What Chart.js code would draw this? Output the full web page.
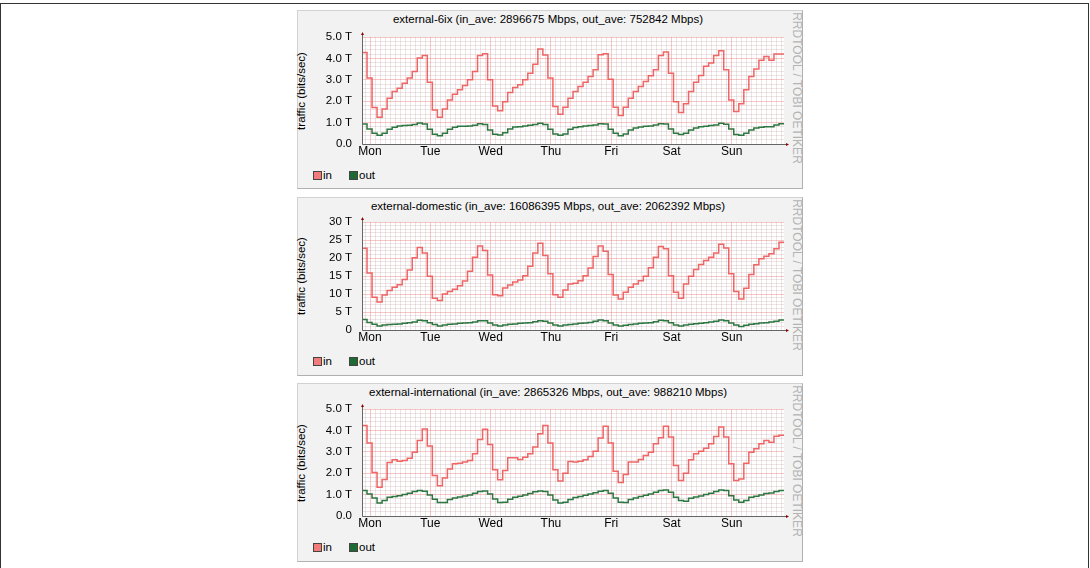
<!DOCTYPE html>
<html>
<head>
<meta charset="utf-8">
<script src="https://cdn.jsdelivr.net/npm/chart.js@4.4.1/dist/chart.umd.min.js"></script>
<style>
body{margin:0;width:1090px;height:568px;background:#fff;position:relative;overflow:hidden;font-family:"Liberation Sans",Arial,sans-serif;color:#000}
.frame{position:absolute;left:0;top:3px;width:1087px;height:600px;border:1px solid #333}
.panel{position:absolute;left:297px;width:504px;height:177px;background:#f2f2f2;border:1px solid;border-color:#d2d2d2 #b0b0b0 #b0b0b0 #d2d2d2}
canvas{position:absolute}
.ttl{position:absolute;left:297px;width:502px;text-align:center;font-size:11.5px;line-height:14px;white-space:nowrap}
.ylab{position:absolute;font-size:11.5px;white-space:nowrap;transform:translate(-50%,-50%) rotate(-90deg)}
.wm{position:absolute;font-size:12px;color:#b4b4b4;white-space:nowrap;transform:translate(-50%,-50%) rotate(90deg)}
.lg{position:absolute;font-size:11.5px;line-height:12px;white-space:nowrap}
.sw{position:absolute;width:7px;height:7px;border:1px solid #444}
</style>
</head>
<body>
<div class="frame"></div>
<script>
// ══════════════════════════════════════════
// DATA (2-hour steps, Sun ~21h -> Sun ~21h, values in T bits/sec)
// ══════════════════════════════════════════
const days=['Mon','Tue','Wed','Thu','Fri','Sat','Sun'];
const titles=[
  'external-6ix (in_ave: 2896675 Mbps, out_ave: 752842 Mbps)',
  'external-domestic (in_ave: 16086395 Mbps, out_ave: 2062392 Mbps)',
  'external-international (in_ave: 2865326 Mbps, out_ave: 988210 Mbps)'
];
const sixIn=[4.28,3.08,1.70,1.25,1.64,2.14,2.45,2.61,2.84,3.08,3.39,4.02,
  4.13,2.89,1.59,1.25,1.63,2.06,2.33,2.53,2.73,3.00,3.39,4.13,
  4.22,3.00,1.78,1.55,1.98,2.41,2.64,2.77,3.00,3.31,3.73,4.44,
  4.16,3.08,1.75,1.39,1.72,2.14,2.45,2.69,2.89,3.16,3.47,4.17,
  4.22,3.03,1.72,1.33,1.72,2.14,2.45,2.69,2.92,3.19,3.47,4.14,
  4.30,3.31,1.98,1.47,1.88,2.45,2.89,3.20,3.63,3.78,4.14,4.36,
  3.47,2.06,1.52,1.88,2.53,3.16,3.50,3.91,4.09,3.91,4.20,4.20];
const sixOut=[0.94,0.70,0.50,0.41,0.50,0.69,0.78,0.84,0.86,0.88,0.91,0.98,
  0.94,0.69,0.45,0.39,0.50,0.69,0.78,0.83,0.83,0.84,0.88,0.95,
  0.91,0.66,0.45,0.42,0.53,0.70,0.80,0.81,0.84,0.88,0.91,0.97,
  0.91,0.69,0.47,0.41,0.47,0.69,0.77,0.81,0.84,0.86,0.89,0.95,
  0.94,0.69,0.50,0.38,0.47,0.66,0.75,0.80,0.83,0.84,0.89,0.95,
  0.94,0.70,0.50,0.44,0.50,0.66,0.75,0.81,0.83,0.86,0.89,0.97,
  0.92,0.70,0.44,0.41,0.50,0.66,0.75,0.78,0.81,0.81,0.89,0.95];
const domIn=[22.7,15.8,9.1,7.8,9.75,11.0,11.9,12.6,14.0,16.7,20.1,22.9,
  21.4,14.9,8.8,8.2,10.0,10.7,11.3,12.3,13.6,16.3,20.2,23.3,
  22.1,15.3,9.8,9.5,11.7,12.5,13.3,13.9,15.1,17.7,21.4,24.1,
  20.7,15.6,9.8,9.1,11.1,12.8,13.0,13.7,15.1,17.2,20.4,23.3,
  21.9,15.4,9.75,8.6,10.5,11.9,12.8,13.7,14.9,17.3,20.2,23.2,
  22.6,15.1,10.5,8.8,12.8,14.9,16.8,18.2,19.3,20.2,21.4,23.8,
  22.8,15.6,10.7,8.6,11.6,15.4,18.1,19.8,20.5,21.2,22.6,24.4];
const domOut=[2.9,2.1,1.6,1.1,1.4,1.5,1.6,1.7,1.85,2.0,2.2,2.7,
  2.6,2.0,1.5,1.1,1.4,1.6,1.7,1.85,1.95,2.0,2.2,2.6,
  2.6,1.95,1.4,1.1,1.4,1.6,1.7,1.85,1.95,2.0,2.3,2.6,
  2.4,1.95,1.4,1.1,1.4,1.5,1.7,1.85,1.95,2.1,2.4,2.8,
  2.6,1.95,1.4,1.1,1.3,1.5,1.7,1.85,1.95,2.0,2.3,2.7,
  2.6,2.0,1.4,1.1,1.4,1.6,1.75,1.85,2.0,2.2,2.4,2.8,
  2.6,1.95,1.4,1.0,1.3,1.6,1.75,1.95,2.0,2.2,2.4,2.8];
const intIn=[4.23,3.41,2.03,1.34,1.70,2.50,2.63,2.56,2.59,2.70,2.98,3.53,
  4.06,3.27,1.89,1.41,1.78,2.20,2.44,2.47,2.52,2.59,2.91,3.58,
  4.05,3.34,2.16,1.69,2.13,2.72,2.72,2.64,2.75,2.91,3.22,3.84,
  4.23,3.41,2.16,1.63,2.00,2.55,2.52,2.56,2.63,2.78,3.03,3.64,
  4.19,3.41,2.09,1.56,1.94,2.52,2.52,2.64,2.83,2.98,3.38,3.66,
  4.19,3.69,2.36,1.66,2.00,2.63,2.91,3.03,3.17,3.38,3.72,4.16,
  3.69,2.44,1.66,1.73,2.47,2.98,3.14,3.38,3.53,3.45,3.73,3.77];
const intOut=[1.19,1.03,0.84,0.61,0.72,0.88,0.91,0.95,1.00,1.06,1.14,1.19,
  1.16,0.98,0.78,0.63,0.63,0.77,0.84,0.89,0.94,0.98,1.06,1.14,
  1.17,1.03,0.80,0.63,0.64,0.78,0.88,0.92,0.98,1.05,1.13,1.17,
  1.14,0.98,0.75,0.61,0.64,0.77,0.86,0.91,0.97,1.03,1.09,1.16,
  1.19,1.06,0.84,0.64,0.63,0.77,0.84,0.91,0.97,1.03,1.11,1.19,
  1.22,1.11,0.88,0.72,0.69,0.83,0.89,0.94,1.00,1.06,1.14,1.22,
  1.19,0.95,0.75,0.64,0.72,0.88,0.92,0.98,1.05,1.08,1.14,1.19];
const yMax=[5,30,5], yMinor=[0.2,1,0.2], yMajor=[1,5,1];
const STEP_H=2, SPAN_H=168, DAY_OFFSET=3.2;   // hours; first midnight 3.2h after start

// ══════════════════════════════════════════
// LAYOUT
// ══════════════════════════════════════════
const panelTops=[10,197,383], plotTops=[27,25,26], plotHs=[107,108,107];
const PLOT_L=362, PLOT_R=784, CV_H=152;
const MAJ_GRID='rgba(236,120,120,0.42)', MIN_GRID='rgba(190,160,160,0.28)';

Chart.defaults.font.family='"Liberation Sans", Arial, sans-serif';
Chart.defaults.font.size=11.5;
Chart.defaults.color='#000';

const near=(v,s)=>Math.abs(v/s-Math.round(v/s))<1e-6;
function steps(vals){
  const pts=vals.map((v,i)=>({x:i*STEP_H,y:v}));
  pts.push({x:vals.length*STEP_H,y:vals[vals.length-1]});
  return pts;
}

const rrdFrame={
  id:'rrdFrame',
  beforeDraw(c){
    const {ctx,chartArea:a}=c;
    ctx.save();ctx.fillStyle='#fff';
    ctx.fillRect(a.left,a.top,a.right-a.left,a.bottom-a.top);
    ctx.restore();
  },
  afterDraw(c){
    const {ctx,chartArea:a}=c;
    const l=Math.round(a.left)+0.5,b=Math.round(a.bottom)+0.5;
    ctx.save();
    ctx.strokeStyle='#666';ctx.lineWidth=1;
    ctx.beginPath();ctx.moveTo(l,b);ctx.lineTo(l,a.top-3);ctx.moveTo(l,b);ctx.lineTo(a.right+3,b);ctx.stroke();
    ctx.fillStyle='#8b0000';
    ctx.beginPath();ctx.moveTo(l-1.5,a.top-2);ctx.lineTo(l+1.5,a.top-2);ctx.lineTo(l,a.top-5);ctx.fill();
    ctx.beginPath();ctx.moveTo(a.right+2,b-1.5);ctx.lineTo(a.right+2,b+1.5);ctx.lineTo(a.right+5,b);ctx.fill();
    ctx.restore();
  }
};

const series=[[sixIn,sixOut],[domIn,domOut],[intIn,intOut]];

series.forEach(([vin,vout],p)=>{
  const T=panelTops[p], PT=plotTops[p], PH=plotHs[p];
  const add=(cls,css,txt)=>{const d=document.createElement('div');d.className=cls;Object.assign(d.style,css);if(txt)d.textContent=txt;document.body.appendChild(d);return d;};
  add('panel',{top:T+'px'});
  add('ttl',{top:(T+2)+'px'},titles[p]);
  add('ylab',{left:'301px',top:(T+PT+PH/2)+'px'},'traffic (bits/sec)');
  add('wm',{left:'797px',top:(T+78)+'px'},'RRDTOOL / TOBI OETIKER');
  const ly=T+PT+PH+31;
  add('sw',{left:'313px',top:(ly-4)+'px',background:'#f27c7c'});
  add('lg',{left:'323px',top:(ly-6)+'px'},'in');
  add('sw',{left:'349px',top:(ly-4)+'px',background:'#1d6a34'});
  add('lg',{left:'359px',top:(ly-6)+'px'},'out');

  const cv=document.createElement('canvas');
  cv.style.left='297px';cv.style.top=T+'px';
  cv.style.width='505px';cv.style.height=CV_H+'px';
  document.body.appendChild(cv);

  const isMaj=v=>near(v,yMajor[p]);
  new Chart(cv,{
    type:'line',
    data:{datasets:[
      {label:'out',data:steps(vout),borderColor:'rgba(34,112,56,0.95)',borderWidth:1.5,stepped:'before',pointRadius:0,fill:false},
      {label:'in',data:steps(vin),borderColor:'rgba(238,84,84,0.9)',borderWidth:1.5,stepped:'before',pointRadius:0,fill:false}
    ]},
    options:{
      responsive:false,animation:false,
      layout:{padding:{top:PT,right:505-(PLOT_R-297),left:0,bottom:0}},
      plugins:{legend:{display:false},tooltip:{enabled:false},title:{display:false}},
      scales:{
        x:{type:'linear',min:0,max:SPAN_H,
          afterBuildTicks(s){const t=[];for(let v=DAY_OFFSET%STEP_H;v<=SPAN_H;v+=STEP_H)t.push({value:+v.toFixed(3)});s.ticks=t;},
          afterFit(s){s.height=CV_H-PT-PH;},
          ticks:{autoSkip:false,maxRotation:0,padding:0,font:{size:12},
            callback:v=>near(v-DAY_OFFSET,24)?days[Math.round((v-DAY_OFFSET)/24)]:''},
          grid:{drawTicks:false,color:c=>near(c.tick.value-DAY_OFFSET,24)?MAJ_GRID:MIN_GRID},
          border:{display:false}
        },
        y:{min:0,max:yMax[p],
          afterFit(s){s.width=PLOT_L-297;},
          ticks:{stepSize:yMinor[p],padding:10,autoSkip:false,
            callback:v=>{if(!isMaj(v))return '';if(v===0)return p===1?'0':'0.0';return (p===1?v:v.toFixed(1))+' T';}},
          grid:{drawTicks:false,color:c=>isMaj(c.tick.value)?MAJ_GRID:MIN_GRID},
          border:{display:false}
        }
      }
    },
    plugins:[rrdFrame]
  });
});
</script>
</body>
</html>
